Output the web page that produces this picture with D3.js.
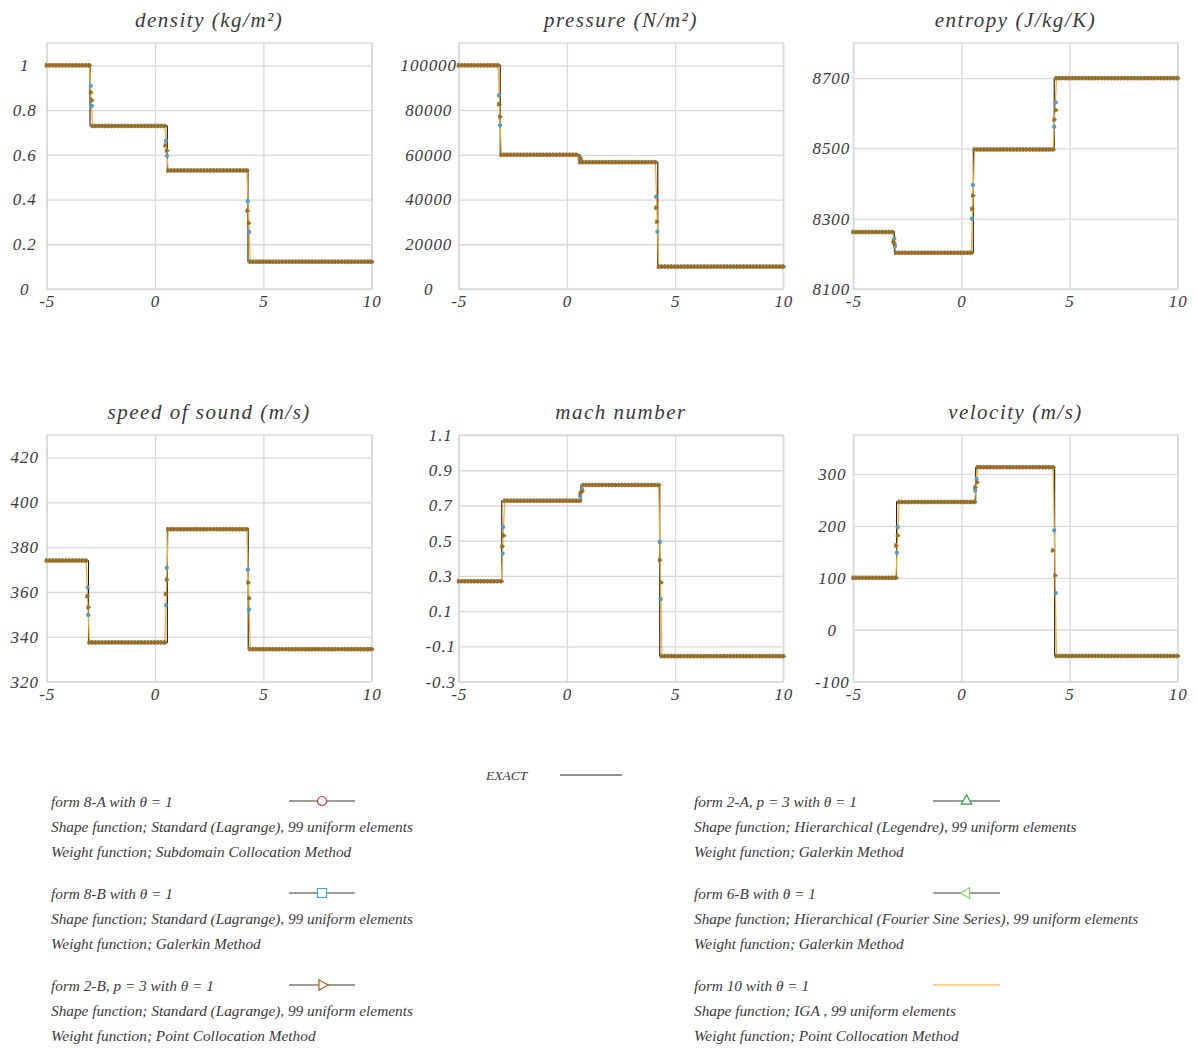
<!DOCTYPE html>
<html>
<head>
<meta charset="utf-8">
<script src="https://cdn.jsdelivr.net/npm/d3@7"></script>
<style>
  body { margin: 0; background: #fff; }
  svg text { font-family: "Liberation Serif", "DejaVu Serif", serif; font-style: italic; fill: #3a3a3a; }
</style>
</head>
<body>
<svg id="chart" width="1197" height="1048"></svg>
<script>
// ---------- data ----------
const xDomain = [-5, 10];
const xTicks = [-5, 0, 5, 10];
const elementCount = 99;            // uniform elements on the x range

const panelTitles = ["density (kg/m²)", "pressure (N/m²)", "entropy (J/kg/K)",
                     "speed of sound (m/s)", "mach number", "velocity (m/s)"];

// y ranges and tick values
const densityRange = [0, 1.1];
const densityTicks = [0, 0.2, 0.4, 0.6, 0.8, 1];
const pressureRange = [0, 110000];
const pressureTicks = [0, 20000, 40000, 60000, 80000, 100000];
const entropyRange = [8100, 8800];
const entropyTicks = [8100, 8300, 8500, 8700];
const soundRange = [320, 430];
const soundTicks = [320, 340, 360, 380, 400, 420];
const machRange = [-0.3, 1.1];
const machTicks = [-0.3, -0.1, 0.1, 0.3, 0.5, 0.7, 0.9, 1.1];
const velocityRange = [-100, 375];
const velocityTicks = [-100, 0, 100, 200, 300];

// exact solution: discontinuity locations and the constant states between them
const densityJumps = [-3.0, 0.57, 4.29];
const densityLevels = [1, 0.729, 0.53, 0.122];
const pressureJumps = [-3.08, 0.6, 4.2];
const pressureLevels = [100000, 60000, 56700, 10000];
const entropyJumps = [-3.1, 0.55, 4.29];
const entropyLevels = [8262, 8203, 8497, 8700];
const soundJumps = [-3.07, 0.57, 4.3];
const soundLevels = [374, 337.5, 388, 334.5];
const machJumps = [-3.01, 0.65, 4.29];
const machLevels = [0.27, 0.727, 0.816, -0.155];
const velocityJumps = [-3.0, 0.66, 4.31];
const velocityLevels = [100, 246, 313, -50.5];

// values inside the elements that contain a discontinuity  [x, value]
const densityShock8 = [[-2.97, 0.909], [-2.92, 0.819], [0.51, 0.663], [0.55, 0.596], [4.28, 0.393], [4.34, 0.255]];
const densityShock2 = [[-2.97, 0.88], [-2.92, 0.844], [0.47, 0.642], [0.54, 0.619], [4.26, 0.35], [4.32, 0.295]];
const pressureShock8 = [[-3.14, 86590], [-3.09, 73180], [0.58, 59300], [0.64, 57500], [4.12, 41260], [4.18, 25620]];
const pressureShock2 = [[-3.14, 82570], [-3.09, 77020], [0.6, 58700], [0.62, 58000], [4.12, 36340], [4.16, 30090]];
const entropyShock8 = [[-3.1, 8244], [-3.07, 8221], [0.53, 8396], [0.49, 8300], [4.36, 8631], [4.29, 8562]];
const entropyShock2 = [[-3.15, 8235], [-3.1, 8228], [0.53, 8366], [0.49, 8328], [4.36, 8609], [4.29, 8582]];
const soundShock8 = [[-3.11, 362], [-3.08, 349.8], [0.5, 354.1], [0.54, 370.8], [4.28, 370], [4.34, 352.2]];
const soundShock2 = [[-3.13, 358.1], [-3.08, 353.2], [0.49, 359.1], [0.54, 365.6], [4.3, 364.2], [4.34, 357.2]];
const machShock8 = [[-2.95, 0.577], [-2.97, 0.427], [0.62, 0.753], [0.7, 0.791], [4.29, 0.493], [4.33, 0.169]];
const machShock2 = [[-2.92, 0.529], [-2.99, 0.468], [0.62, 0.77], [0.7, 0.781], [4.29, 0.391], [4.35, 0.263]];
const velocityShock8 = [[-2.95, 197.5], [-2.99, 148.4], [0.7, 290.4], [0.64, 268], [4.29, 191.2], [4.36, 70.8]];
const velocityShock2 = [[-2.95, 181.6], [-3.03, 162.4], [0.72, 283.9], [0.63, 274.3], [4.22, 152.8], [4.33, 104.8]];

// legend texts
const exactLabel = "EXACT";
const legendLeft = [
  ["form 8-A with θ = 1", "Shape function; Standard (Lagrange), 99 uniform elements", "Weight function; Subdomain Collocation Method"],
  ["form 8-B with θ = 1", "Shape function; Standard (Lagrange), 99 uniform elements", "Weight function; Galerkin Method"],
  ["form 2-B, p = 3 with θ = 1", "Shape function; Standard (Lagrange), 99 uniform elements", "Weight function; Point Collocation Method"]
];
const legendRight = [
  ["form 2-A, p = 3 with θ = 1", "Shape function; Hierarchical (Legendre), 99 uniform elements", "Weight function; Galerkin Method"],
  ["form 6-B with θ = 1", "Shape function; Hierarchical (Fourier Sine Series), 99 uniform elements", "Weight function; Galerkin Method"],
  ["form 10 with θ = 1", "Shape function; IGA , 99 uniform elements", "Weight function; Point Collocation Method"]
];

// ---------- tables built from the arrays ----------
const panels = [
  { title: panelTitles[0], range: densityRange,  ticks: densityTicks,  jumps: densityJumps,  levels: densityLevels,  s8: densityShock8,  s2: densityShock2 },
  { title: panelTitles[1], range: pressureRange, ticks: pressureTicks, jumps: pressureJumps, levels: pressureLevels, s8: pressureShock8, s2: pressureShock2 },
  { title: panelTitles[2], range: entropyRange,  ticks: entropyTicks,  jumps: entropyJumps,  levels: entropyLevels,  s8: entropyShock8,  s2: entropyShock2 },
  { title: panelTitles[3], range: soundRange,    ticks: soundTicks,    jumps: soundJumps,    levels: soundLevels,    s8: soundShock8,    s2: soundShock2 },
  { title: panelTitles[4], range: machRange,     ticks: machTicks,     jumps: machJumps,     levels: machLevels,     s8: machShock8,     s2: machShock2 },
  { title: panelTitles[5], range: velocityRange, ticks: velocityTicks, jumps: velocityJumps, levels: velocityLevels, s8: velocityShock8, s2: velocityShock2 }
];

const series = [
  { key: "8-A", color: "#e3342f", shape: "circle", shock: "s8" },
  { key: "8-B", color: "#33ade0", shape: "square", shock: "s8" },
  { key: "2-A", color: "#2ea043", shape: "up",     shock: "s2" },
  { key: "6-B", color: "#86d468", shape: "left",   shock: "s2" },
  { key: "2-B", color: "#a8621c", shape: "right",  shock: "s2" }
];
const colorIGA = "#ffa81e";
const colorExact = "#1e1e1e";

// ---------- layout ----------
const cols = [{ l: 46.7, r: 371.7 }, { l: 458.7, r: 783.3 }, { l: 853.3, r: 1177.7 }];
const rows = [{ t: 43, b: 289 }, { t: 435, b: 681.7 }];
const yLabelGap = [22, 30, 22, 22, 18, 21];
const gridColor = "#d9d9d9";

const svg = d3.select("#chart");

// node coordinates of the uniform mesh
const nodes = d3.range(elementCount + 1).map(k => xDomain[0] + k * (xDomain[1] - xDomain[0]) / elementCount);

function stateAt(p, xv) {
  let i = 0;
  while (i < p.jumps.length && xv >= p.jumps[i]) i++;
  return p.levels[i];
}

function symbolFor(shape, size) {
  const type = shape === "circle" ? d3.symbolCircle
             : shape === "square" ? d3.symbolSquare
             : d3.symbolTriangle;
  return d3.symbol().type(type).size(size)();
}
function rotationFor(shape) {
  return shape === "right" ? 90 : shape === "left" ? -90 : 0;
}

panels.forEach((p, i) => {
  const c = cols[i % 3], r = rows[Math.floor(i / 3)];
  const x = d3.scaleLinear().domain(xDomain).range([c.l, c.r]);
  const y = d3.scaleLinear().domain(p.range).range([r.b, r.t]);
  const g = svg.append("g");

  // horizontal grid + y labels
  const ya = g.append("g").attr("transform", `translate(${c.l},0)`)
    .call(d3.axisLeft(y).tickValues(p.ticks).tickSize(-(c.r - c.l)).tickPadding(yLabelGap[i]).tickFormat(d => String(d)));
  ya.select(".domain").remove();
  ya.selectAll("line").attr("stroke", gridColor).attr("stroke-width", 1.3);
  ya.selectAll("text").attr("text-anchor", "middle").attr("font-size", 17)
    .attr("letter-spacing", "0.9px").attr("fill", "#3a3a3a")
    .style("font-family", '"Liberation Serif", serif').style("font-style", "italic");

  // vertical grid + x labels
  const xa = g.append("g").attr("transform", `translate(0,${r.b})`)
    .call(d3.axisBottom(x).tickValues(xTicks).tickSize(-(r.b - r.t)).tickPadding(6).tickFormat(d => String(d)));
  xa.select(".domain").remove();
  xa.selectAll("line").attr("stroke", gridColor).attr("stroke-width", 1.3);
  xa.selectAll("text").attr("font-size", 17).attr("letter-spacing", "0.9px").attr("fill", "#3a3a3a")
    .style("font-family", '"Liberation Serif", serif').style("font-style", "italic");

  // frame
  g.append("rect").attr("x", c.l).attr("y", r.t).attr("width", c.r - c.l).attr("height", r.b - r.t)
    .attr("fill", "none").attr("stroke", gridColor).attr("stroke-width", 1.3);

  // title
  g.append("text").attr("x", (c.l + c.r) / 2).attr("y", r.t - 16)
    .attr("text-anchor", "middle").attr("font-size", 21).attr("letter-spacing", "1.5px")
    .text(p.title);

  // exact solution
  const exactPts = [[xDomain[0], p.levels[0]]]
    .concat(p.jumps.map((j, k) => [j, p.levels[k + 1]]))
    .concat([[xDomain[1], p.levels[p.levels.length - 1]]]);
  g.append("path").datum(exactPts)
    .attr("d", d3.line().x(d => x(d[0])).y(d => y(d[1])).curve(d3.curveStepAfter))
    .attr("fill", "none").attr("stroke", colorExact).attr("stroke-width", 1.1);

  // form 10 (IGA) nodal solution
  const nodal = nodes.map(xv => [xv, stateAt(p, xv)]);
  g.append("path").datum(nodal)
    .attr("d", d3.line().x(d => x(d[0])).y(d => y(d[1])))
    .attr("fill", "none").attr("stroke", colorIGA).attr("stroke-width", 1.2);

  // marker series
  series.forEach(s => {
    const pts = nodal.concat(p[s.shock]);
    const size = s.shape === "circle" ? 7 : s.shape === "square" ? 9 : s.shape === "right" ? 9 : 6;
    const sym = symbolFor(s.shape, size);
    g.append("g").selectAll("path").data(pts).join("path")
      .attr("d", sym)
      .attr("transform", d => `translate(${x(d[0])},${y(d[1])}) rotate(${rotationFor(s.shape)})`)
      .attr("fill", s.shape === "circle" ? "none" : s.color)
      .attr("stroke", s.color).attr("stroke-width", s.shape === "circle" ? 0.8 : 0.4);
  });
});

// ---------- legend ----------
const lg = svg.append("g").attr("font-size", 15.3);
lg.append("text").attr("x", 486).attr("y", 775).attr("dominant-baseline", "central")
  .attr("font-size", 13.5).text(exactLabel);
lg.append("line").attr("x1", 560).attr("x2", 622).attr("y1", 775).attr("y2", 775)
  .attr("stroke", colorExact).attr("stroke-width", 1.2);

const blockY = [801, 893, 985];
const lineGap = 25.2;
function legendColumn(entries, textX, lineX0, lineX1, items) {
  entries.forEach((lines, b) => {
    lines.forEach((t, k) => {
      lg.append("text").attr("x", textX).attr("y", blockY[b] + k * lineGap)
        .attr("dominant-baseline", "central").text(t);
    });
    const item = items[b];
    const yy = blockY[b];
    lg.append("line").attr("x1", lineX0).attr("x2", lineX1).attr("y1", yy).attr("y2", yy)
      .attr("stroke", item ? "#3a3a3a" : colorIGA).attr("stroke-width", 1.2);
    if (item) {
      const size = item.shape === "circle" ? 64 : item.shape === "square" ? 81 : 48;
      lg.append("path").attr("d", symbolFor(item.shape, size))
        .attr("transform", `translate(${(lineX0 + lineX1) / 2},${yy}) rotate(${rotationFor(item.shape)})`)
        .attr("fill", "#fff").attr("stroke", item.color).attr("stroke-width", 1.2);
    }
  });
}
const byKey = k => series.find(s => s.key === k);
legendColumn(legendLeft, 51, 289, 355, [byKey("8-A"), byKey("8-B"), byKey("2-B")]);
legendColumn(legendRight, 694, 933, 1000, [byKey("2-A"), byKey("6-B"), null]);
</script>
</body>
</html>
